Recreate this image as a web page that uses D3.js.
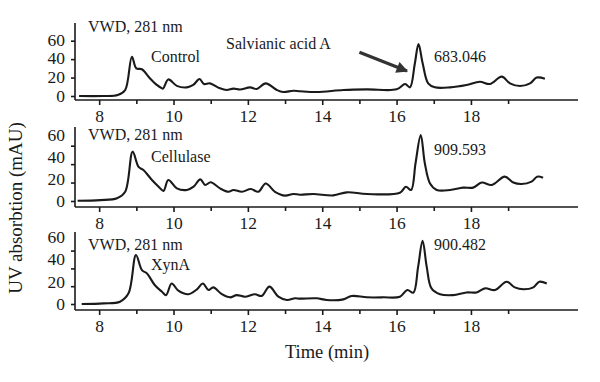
<!DOCTYPE html>
<html>
<head>
<meta charset="utf-8">
<script src="https://cdn.jsdelivr.net/npm/d3@7"></script>
<style>
  html, body { margin: 0; padding: 0; background: #fff; }
  svg { display: block; }
  text { font-family: "Liberation Serif", "DejaVu Serif", serif; fill: #1a1a1a; }
</style>
</head>
<body>
<svg id="chart" width="600" height="382"></svg>
<script>
// ---------- DATA ----------
const sampleNames = ["Control", "Cellulase", "XynA"];
const peakAreaLabels = ["683.046", "909.593", "900.482"];
const detectorLabel = "VWD, 281 nm";
const compoundLabel = "Salvianic acid A";
const xTickValues = [8, 10, 12, 14, 16, 18];
const xMinorTickValues = [9, 11, 13, 15, 17, 19];
const yTickValues = [0, 20, 40, 60];

const controlTime = [7.46, 8.1, 8.5, 8.7, 8.88, 9.0, 9.15, 9.37, 9.55, 9.68, 9.72, 9.86, 10.09, 10.36, 10.53, 10.7, 10.82, 10.98, 11.25, 11.43, 11.61, 11.79, 12.06, 12.24, 12.48, 12.78, 12.95, 13.22, 13.4, 13.85, 14.57, 15.2, 16.0, 16.23, 16.36, 16.49, 16.59, 16.7, 16.85, 17.03, 17.44, 17.88, 18.24, 18.51, 18.83, 19.05, 19.32, 19.59, 19.77, 19.99];
const controlAU = [0, 0, 1, 6.5, 42.6, 30, 29, 19, 12, 8.5, 8, 18, 11, 9.4, 12, 18.4, 13, 13.7, 8.3, 6.5, 8, 7, 9.4, 7.6, 13.7, 6.5, 4.3, 5.7, 5.2, 4.3, 6.5, 7.2, 7.2, 13, 9.4, 35, 56.4, 35.8, 13.7, 9.4, 9.4, 12, 15.5, 13, 21, 13.7, 10.8, 13.7, 20, 18.8];

const cellulaseTime = [7.42, 8.03, 8.48, 8.7, 8.9, 9.06, 9.19, 9.42, 9.6, 9.73, 9.86, 10.09, 10.36, 10.54, 10.72, 10.85, 11.0, 11.25, 11.48, 11.61, 11.84, 12.08, 12.28, 12.48, 12.73, 13.0, 13.22, 13.4, 13.76, 14.3, 14.66, 15.2, 16.09, 16.25, 16.39, 16.51, 16.65, 16.76, 16.9, 17.08, 17.44, 17.79, 18.06, 18.29, 18.56, 18.91, 19.14, 19.36, 19.63, 19.78, 19.94];
const cellulaseAU = [0.3, 1, 3, 10, 53.5, 37, 33.6, 22.8, 15.5, 11, 22.8, 13.7, 12, 15.5, 23.5, 17.4, 20.3, 13.7, 10, 12, 10, 13, 10, 19, 10, 5.8, 7.6, 6.8, 7.6, 6.1, 9.4, 7.6, 9, 15.5, 12, 41, 71.6, 41, 19, 12, 12, 14.5, 14.5, 20, 17.4, 26.4, 20, 18.4, 21, 26.4, 25.3];

const xynATime = [7.53, 8.12, 8.56, 8.79, 8.99, 9.15, 9.28, 9.5, 9.69, 9.8, 9.95, 10.13, 10.4, 10.63, 10.79, 10.94, 11.07, 11.3, 11.52, 11.7, 11.92, 12.19, 12.37, 12.58, 12.82, 13.05, 13.27, 13.4, 13.85, 14.12, 14.57, 14.79, 15.2, 15.64, 16.09, 16.29, 16.45, 16.58, 16.7, 16.81, 16.94, 17.17, 17.52, 17.88, 18.15, 18.38, 18.65, 18.96, 19.18, 19.41, 19.68, 19.84, 20.04];
const xynAAU = [0, 0.7, 2.6, 12, 55, 38, 34.5, 21, 13.8, 10, 23, 15, 11, 16.5, 23, 15.7, 18.7, 11, 7.5, 10, 8.2, 11, 9, 19.5, 8.2, 4.5, 6.4, 6, 6.4, 4.5, 5.2, 9, 7.5, 7.5, 8.2, 15.7, 12.7, 42, 71, 42, 17.6, 11, 10, 13, 13, 17.6, 15.7, 25, 18.7, 16.5, 18.7, 25, 23];

// arrow pointing at the salvianic acid A peak (data units of the Control panel)
const arrowFrom = [15.0, 47.5];
const arrowTo = [16.28, 27];

// ---------- LAYOUT ----------
const svg = d3.select("#chart");
const axisLeft = 75, axisRight = 578;
const x = d3.scaleLinear().domain([7.35, 20.88]).range([axisLeft, axisRight]);

const panels = [
  { time: controlTime, au: controlAU, top: 23, bottom: 100, zeroY: 96, pxPerUnit: 0.922, label60: 39.5, label0: 96, titleY: 32, nameY: 62, peakY: 62 },
  { time: cellulaseTime, au: cellulaseAU, top: 127, bottom: 207, zeroY: 201, pxPerUnit: 0.922, label60: 135, label0: 201, titleY: 140, nameY: 162, peakY: 155 },
  { time: xynATime, au: xynAAU, top: 232, bottom: 310, zeroY: 304, pxPerUnit: 0.89, label60: 237, label0: 304, titleY: 250, nameY: 270, peakY: 250 }
];

const tickFont = 17.5, annFont = 16, titleFont = 18.5;

panels.forEach((p, i) => {
  const yMin = (p.zeroY - p.bottom) / p.pxPerUnit;   // negative padding under 0
  const yMax = (p.zeroY - p.top) / p.pxPerUnit;
  const y = d3.scaleLinear().domain([yMin, yMax]).range([p.bottom, p.top]);
  const yLabel = d3.scaleLinear().domain([0, 60]).range([p.label0, p.label60]);
  const g = svg.append("g");

  // x axis (major + minor ticks)
  const xAxis = g.append("g").attr("transform", `translate(0,${p.bottom})`)
    .call(d3.axisBottom(x).tickValues(xTickValues).tickSize(5).tickPadding(5).tickFormat(d3.format("d")));
  g.append("g").attr("transform", `translate(0,${p.bottom})`)
    .call(d3.axisBottom(x).tickValues(xMinorTickValues).tickSize(4).tickFormat(""))
    .call(a => a.select(".domain").remove());
  xAxis.select(".domain").attr("d", `M${axisLeft},0H${axisRight}`);

  // y axis (ticks) with labels placed via label scale
  const yAxis = g.append("g").attr("transform", `translate(${axisLeft},0)`)
    .call(d3.axisLeft(y).tickValues(yTickValues).tickSize(4).tickFormat(""));
  yAxis.select(".domain").attr("d", `M0,${p.top}V${p.bottom}`);
  g.append("g").selectAll("text").data(yTickValues).join("text")
    .attr("x", axisLeft - 10).attr("y", d => yLabel(d)).attr("dy", "0.35em")
    .attr("text-anchor", "end").attr("font-size", tickFont).text(d => d);

  g.selectAll(".domain, .tick line").attr("stroke", "#1a1a1a").attr("stroke-width", 1.6);
  g.selectAll(".tick text").attr("font-size", tickFont).attr("font-family", "Liberation Serif, serif").attr("fill", "#1a1a1a");

  // trace
  const pts = p.time.map((t, k) => [t, p.au[k]]);
  g.append("path").datum(pts)
    .attr("fill", "none").attr("stroke", "#1a1a1a").attr("stroke-width", 2.1)
    .attr("stroke-linejoin", "round")
    .attr("d", d3.line().x(d => x(d[0])).y(d => y(d[1])).curve(d3.curveCatmullRom.alpha(0.5)));

  // annotations
  g.append("text").attr("x", 88).attr("y", p.titleY).attr("font-size", annFont).text(detectorLabel);
  g.append("text").attr("x", 151).attr("y", p.nameY).attr("font-size", annFont).text(sampleNames[i]);
  g.append("text").attr("x", 434).attr("y", p.peakY).attr("font-size", annFont).text(peakAreaLabels[i]);

  if (i === 0) {
    g.append("text").attr("x", 226).attr("y", 49).attr("font-size", annFont).text(compoundLabel);
    const defs = svg.append("defs");
    defs.append("marker").attr("id", "arrowhead").attr("viewBox", "0 0 10 10")
      .attr("refX", 9).attr("refY", 5).attr("markerWidth", 4.2).attr("markerHeight", 3.6)
      .attr("orient", "auto").attr("markerUnits", "strokeWidth")
      .append("path").attr("d", "M0,0L10,5L0,10z").attr("fill", "#333");
    g.append("line")
      .attr("x1", x(arrowFrom[0])).attr("y1", y(arrowFrom[1]))
      .attr("x2", x(arrowTo[0])).attr("y2", y(arrowTo[1]))
      .attr("stroke", "#333").attr("stroke-width", 3.2)
      .attr("marker-end", "url(#arrowhead)");
  }
});

// axis titles
svg.append("text").attr("x", 327).attr("y", 358).attr("text-anchor", "middle")
  .attr("font-size", titleFont).text("Time (min)");
svg.append("text").attr("transform", "translate(22,208) rotate(-90)")
  .attr("text-anchor", "middle").attr("font-size", 19).text("UV absorbtion (mAU)");
</script>
</body>
</html>
